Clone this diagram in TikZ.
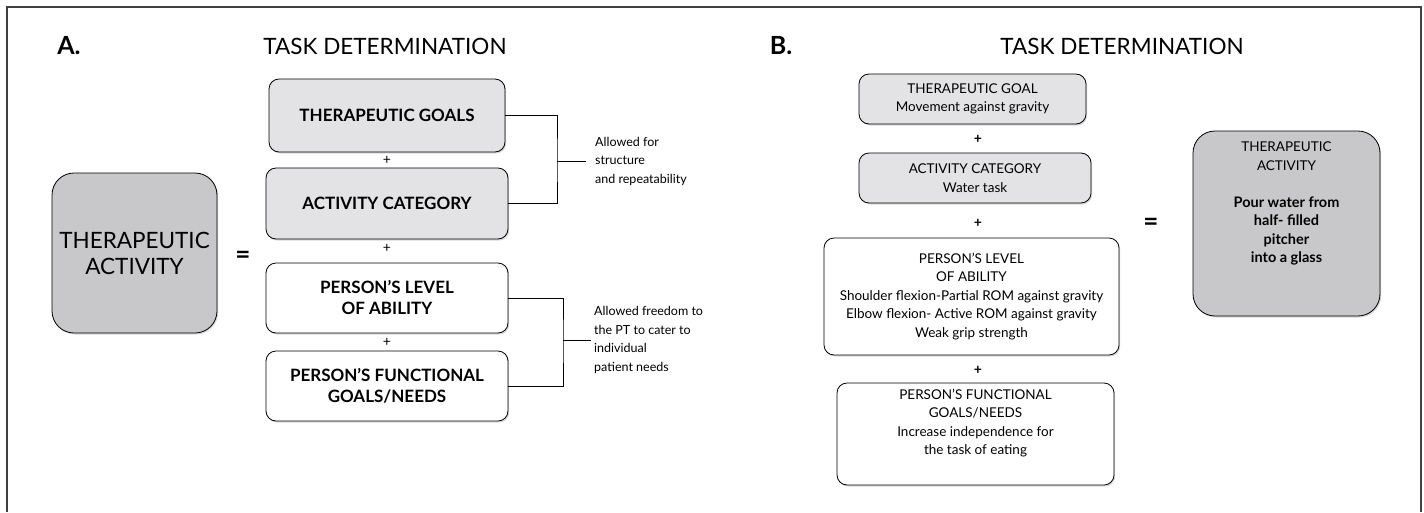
\documentclass[tikz,border=0pt]{standalone}
\usepackage{fontspec}
\setmainfont{Lato}
\usetikzlibrary{positioning,shadows}

\definecolor{boxlight}{RGB}{227,227,229}
\definecolor{boxdark}{RGB}{200,200,202}

\newcommand{\headfont}{\fontsize{22.5}{26}\selectfont}
\newcommand{\letterfont}{\fontsize{25}{28}\selectfont\bfseries}
\newcommand{\capsfont}{\fontsize{17}{21}\selectfont\bfseries}
\newcommand{\notefont}{\fontsize{12.5}{18.5}\selectfont}
\newcommand{\smallfont}{\fontsize{13.5}{18.5}\selectfont}
\newcommand{\heavyfont}{\fontsize{14.5}{18.5}\selectfont\bfseries}

\tikzset{
  panelbox/.style={draw=black, line width=0.8pt, rounded corners=10pt,
    align=center, inner sep=0pt,
    drop shadow={shadow xshift=1.2pt, shadow yshift=-1.5pt, fill=black!30}},
  lightbox/.style={panelbox, fill=boxlight},
  plainbox/.style={panelbox, fill=white},
  activitybox/.style={panelbox, fill=boxdark, rounded corners=22pt},
  note/.style={align=left, anchor=west, font=\notefont, inner ysep=0pt},
  plus/.style={font=\fontsize{14}{16}\selectfont},
  boldplus/.style={font=\fontsize{14}{16}\selectfont\bfseries},
  equal/.style={font=\fontsize{26}{28}\selectfont\bfseries},
  link/.style={draw=black, line width=0.8pt}
}

\begin{document}
\begin{tikzpicture}[x=1pt,y=-1pt]

\useasboundingbox (0,0) rectangle (1424,512);

% Outer frame (open at the bottom)
\draw[line width=2pt, black!75] (7,512) -- (7,7) -- (1421,7) -- (1421,512);

% ---------- Panel A ----------
\node[font=\letterfont] (labA) at (69,46) {A.};
\node[font=\headfont] (titleA) at (385,46) {TASK DETERMINATION};

% Therapeutic activity on the left
\node[activitybox, minimum width=165pt, minimum height=160pt, font=\headfont] (actA) at (134.5,253) {THERAPEUTIC\\ACTIVITY};
\node[equal] (eqA) at (243,257) {=};

% The four parts
\node[lightbox, minimum width=236pt, minimum height=73pt, font=\capsfont] (goalA) at (387,115.5) {THERAPEUTIC GOALS};
\node[lightbox, minimum width=242pt, minimum height=71pt, font=\capsfont] (catA) at (387,203.5) {ACTIVITY CATEGORY};
\node[plainbox, minimum width=242pt, minimum height=70pt, font=\capsfont] (levelA) at (387,298) {PERSON'S LEVEL\\OF ABILITY};
\node[plainbox, minimum width=242pt, minimum height=70pt, font=\capsfont] (needA) at (387,386) {PERSON'S FUNCTIONAL\\GOALS/NEEDS};

% Plus signs between the parts
\node[plus] (plusA1) at (387,160) {+};
\node[plus] (plusA2) at (387,248) {+};
\node[plus] (plusA3) at (387,342) {+};

% Brackets and their notes
\coordinate (joinA) at (557,161);
\draw[link] (goalA.east) -| (joinA) |- (catA.east);
\node[note, inner xsep=9pt] (noteA) at (586,161) {Allowed for\\structure\\and repeatability};
\draw[link] (joinA) -- (noteA.west);

\coordinate (joinB) at (563,340);
\draw[link] (levelA.east) -| (joinB) |- (needA.east);
\node[note, inner xsep=3pt] (noteB) at (591,340) {Allowed freedom to\\the PT to cater to\\individual\\patient needs};
\draw[link] (joinB) -- (noteB.west);

% ---------- Panel B ----------
\node[font=\letterfont] (labB) at (781,46) {B.};
\node[font=\headfont] (titleB) at (1122,46) {TASK DETERMINATION};

\node[lightbox, minimum width=227pt, minimum height=50pt, font=\smallfont] (goalB) at (972.5,99) {THERAPEUTIC GOAL\\Movement against gravity};
\node[lightbox, minimum width=232pt, minimum height=50pt, font=\smallfont] (catB) at (975,178) {ACTIVITY CATEGORY\\Water task};
\node[plainbox, minimum width=295pt, minimum height=117pt, font=\smallfont] (levelB) at (971.5,296.5) {PERSON'S LEVEL\\OF ABILITY\\Shoulder flexion-Partial ROM against gravity\\Elbow flexion- Active ROM against gravity\\Weak grip strength};
\node[plainbox, minimum width=277pt, minimum height=102pt, font=\smallfont] (needB) at (975.5,434) {PERSON'S FUNCTIONAL\\GOALS/NEEDS\\Increase independence for\\the task of eating\\\strut};

% Plus signs between the parts
\node[boldplus] (plusB1) at (978,139) {+};
\node[boldplus] (plusB2) at (978,223) {+};
\node[boldplus] (plusB3) at (978,370) {+};

% Result
\node[equal] (eqB) at (1151,224) {=};
\node[activitybox, minimum width=187pt, minimum height=185pt, font=\smallfont] (actB) at (1286.5,223.5) {THERAPEUTIC\\ACTIVITY\\\strut\\{\heavyfont Pour water from}\\{\heavyfont half- filled}\\{\heavyfont pitcher}\\{\heavyfont into a glass}\\\strut\\\strut};

\end{tikzpicture}
\end{document}
